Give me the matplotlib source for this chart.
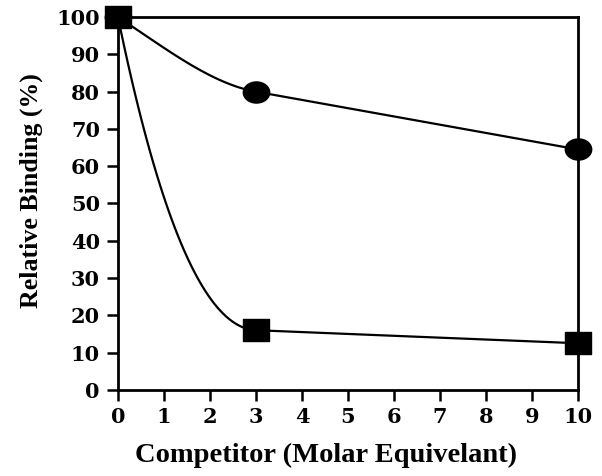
import numpy as np
import matplotlib
matplotlib.use('Agg')
import matplotlib.pyplot as plt
from matplotlib.path import Path

competitor = [0, 3, 10]
circle_binding = [100, 80, 64.5]
square_binding = [100, 16, 12.5]

x_ticks = list(range(0, 11))
y_ticks = list(range(0, 101, 10))


def hermite_curve(x, y, start_slope, n=60):
  # smooth line through the points: given slope at the first point,
  # slope at every later point follows the next segment
  x = np.asarray(x, float)
  y = np.asarray(y, float)
  secants = np.diff(y) / np.diff(x)
  slopes = np.append(secants, secants[-1])
  slopes[0] = start_slope
  xs, ys = [], []
  for i in range(len(x) - 1):
    h = x[i+1] - x[i]
    t = np.linspace(0, 1, n)
    h00 = 2*t**3 - 3*t**2 + 1
    h10 = t**3 - 2*t**2 + t
    h01 = -2*t**3 + 3*t**2
    h11 = t**3 - t**2
    xs.append(x[i] + t*h)
    ys.append(h00*y[i] + h10*h*slopes[i] + h01*y[i+1] + h11*h*slopes[i+1])
  return np.concatenate(xs), np.concatenate(ys)


# slightly squashed markers like the scanned figure
circ = Path.unit_circle()
ellipse_marker = Path(circ.vertices * [1.0, 0.8], circ.codes)
square_marker = Path([(-1, -0.85), (1, -0.85), (1, 0.85), (-1, 0.85), (-1, -0.85)],
                     [Path.MOVETO, Path.LINETO, Path.LINETO, Path.LINETO, Path.CLOSEPOLY])

plt.rcParams['font.family'] = 'DejaVu Serif'
plt.rcParams['font.weight'] = 'bold'

fig = plt.figure(figsize=(6.02, 4.76), dpi=100)
ax = fig.add_axes([0.196, 0.181, 0.764, 0.783])

cx, cy = hermite_curve(competitor, circle_binding, -8)
sx, sy = hermite_curve(competitor, square_binding, -60)
ax.plot(cx, cy, color='black', lw=1.6, clip_on=False)
ax.plot(sx, sy, color='black', lw=1.6, clip_on=False)
ax.plot(competitor, circle_binding, linestyle='none', marker=ellipse_marker,
        markersize=19, color='black', clip_on=False, zorder=3)
ax.plot(competitor, square_binding, linestyle='none', marker=square_marker,
        markersize=19, color='black', clip_on=False, zorder=4)

ax.set_xlim(0, 10)
ax.set_ylim(0, 100)
ax.set_xticks(x_ticks)
ax.set_yticks(y_ticks)
ax.tick_params(direction='out', length=8, width=1.8, labelsize=15)
ax.tick_params(axis='x', pad=4)
ax.tick_params(axis='y', pad=5)
for s in ax.spines.values():
  s.set_linewidth(2)

ax.set_xlabel('Competitor (Molar Equivelant)', fontsize=20.5, fontweight='bold',
              family='Liberation Serif')
ax.xaxis.set_label_coords(0.452, -0.143)
ax.set_ylabel('Relative Binding (%)', fontsize=18.6, fontweight='bold',
              family='Liberation Serif')
ax.yaxis.set_label_coords(-0.163, 0.536)

fig.savefig('out.png', dpi=100)
